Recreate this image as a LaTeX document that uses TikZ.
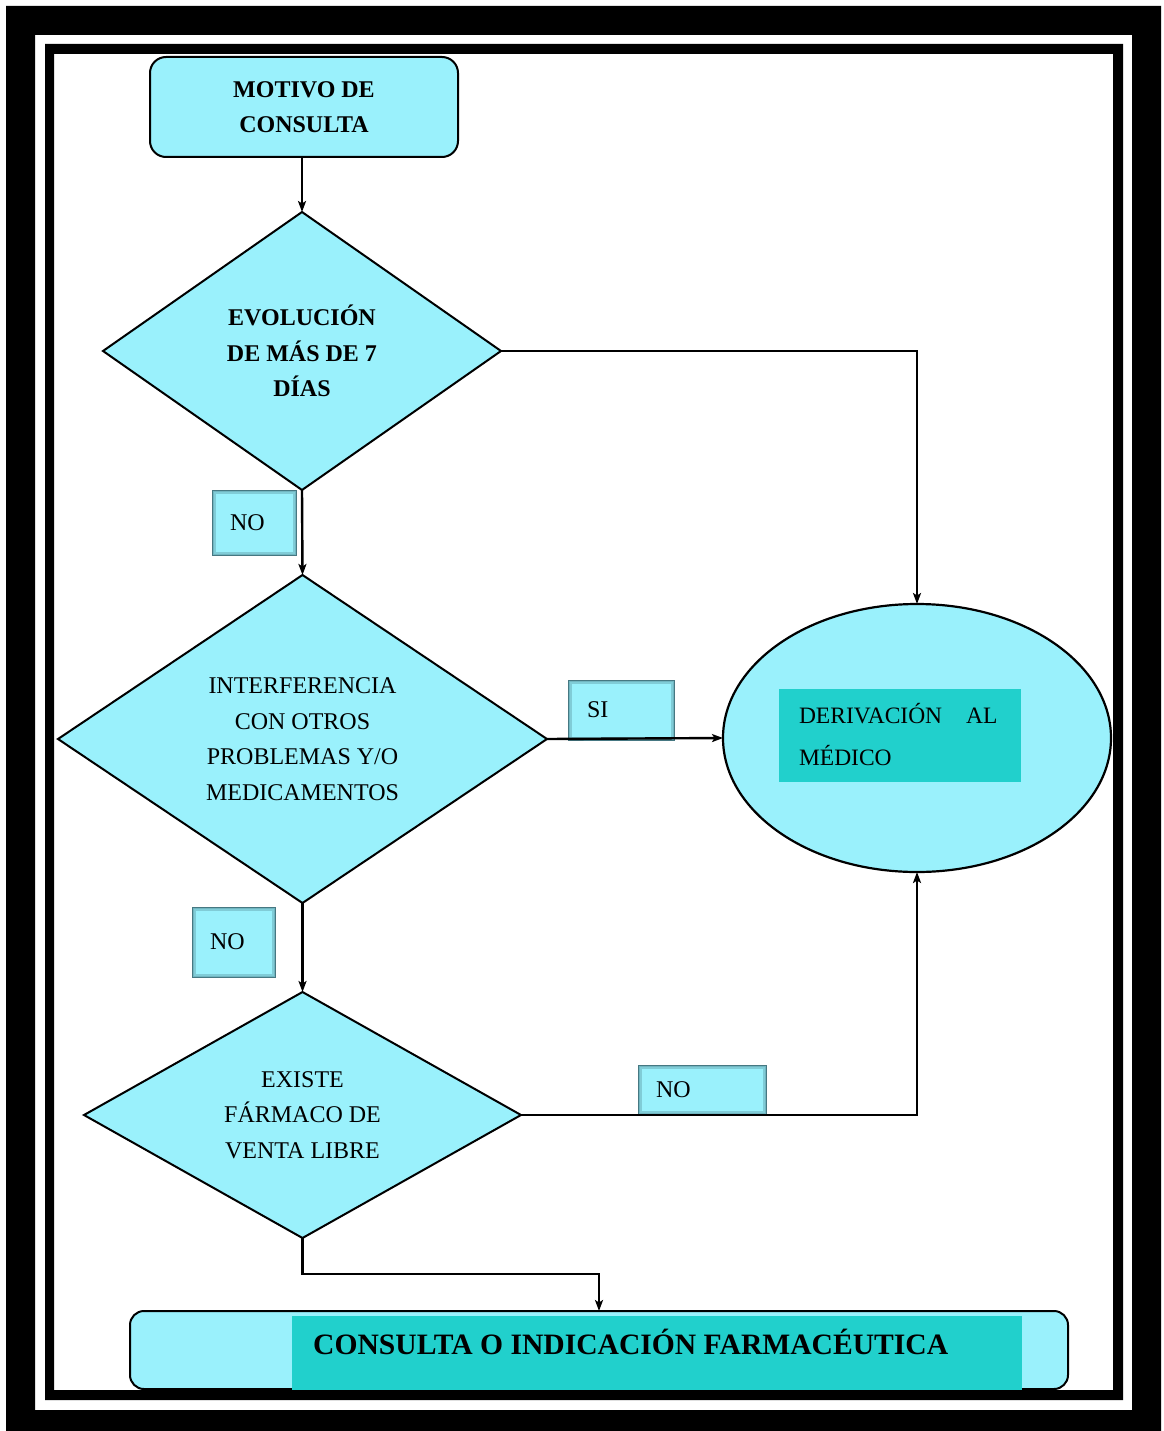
\documentclass[tikz,border=0pt]{standalone}
\usepackage{fontspec}
\setmainfont{Liberation Serif}
\usetikzlibrary{shapes.geometric,arrows.meta}
\definecolor{lightc}{RGB}{154,241,252}
\definecolor{tealc}{RGB}{33,208,204}
\definecolor{edgec}{RGB}{70,120,130}
\begin{document}
\begin{tikzpicture}[x=1pt,y=-1pt,
  conn/.style={line width=2.4pt, draw=black},
  arr/.style={conn,-{Stealth[length=11pt,width=8pt,inset=2.5pt]}},
  shapebase/.style={fill=lightc, draw=black, line width=2pt, outer sep=0pt, inner sep=0pt, align=center},
  decision/.style={shapebase, diamond},
  regtext/.style={font=\fontsize{24}{35.5}\selectfont},
  boldtext/.style={font=\bfseries\fontsize{24}{35.5}\selectfont},
  roundbox/.style={shapebase, rectangle, rounded corners=16pt},
  labelbox/.style={rectangle, fill=lightc, draw=edgec, line width=1pt, outer sep=0pt,
    inner xsep=18pt, inner ysep=0pt, align=left, font=\fontsize{24}{28}\selectfont,
    path picture={\draw[edgec, opacity=0.3, line width=7pt]
      (path picture bounding box.south west) rectangle (path picture bounding box.north east);
      \draw[edgec, opacity=0.25, line width=3pt]
      (path picture bounding box.south west) rectangle (path picture bounding box.north east);}},
  tealbox/.style={rectangle, fill=tealc, draw=none, outer sep=0pt}
]
\useasboundingbox (0,0) rectangle (1163,1431);
% frame
\fill[black,even odd rule] (6,6) rectangle (1161,1431) (35,35) rectangle (1132,1410);
\fill[black,even odd rule] (45,44) rectangle (1123,1400) (54,54) rectangle (1113,1390);

% nodes
\node[roundbox, boldtext, minimum width=308pt, minimum height=100pt] (motivo) at (304,107) {MOTIVO DE\\CONSULTA};

\node[decision, boldtext, aspect=1.43, minimum width=398pt, minimum height=278pt] (d1) at (302,351)
  {EVOLUCIÓN\\DE MÁS DE 7\\DÍAS};

\node[decision, regtext, aspect=1.49, minimum width=489pt, minimum height=328pt] (d2) at (302.5,739)
  {INTERFERENCIA\\CON OTROS\\PROBLEMAS Y/O\\MEDICAMENTOS};

\node[decision, regtext, aspect=1.78, minimum width=437pt, minimum height=246pt] (d3) at (302.5,1115)
  {EXISTE\\FÁRMACO DE\\VENTA LIBRE};

\node[ellipse, fill=lightc, draw=black, line width=2.2pt, outer sep=0pt, minimum width=388pt, minimum height=268pt] (deriv) at (917,738) {};
\node[tealbox, minimum width=242pt, minimum height=93pt, inner xsep=20pt, text width=202pt, align=left,
  font=\fontsize{23.5}{42}\selectfont] (derivbox) at (900,735)
  {DERIVACIÓN\hspace*{24pt}AL\\MÉDICO};

\node[roundbox, rounded corners=14pt, minimum width=938pt, minimum height=78pt] (final) at (599,1350) {};
\node[tealbox, minimum width=730pt, minimum height=74pt] (finalfill) at (657,1353) {};
\node[anchor=base west, inner sep=0pt, font=\bfseries\fontsize{29.6}{34}\selectfont] (finaltext) at (313,1354)
  {CONSULTA O INDICACIÓN FARMACÉUTICA};

% label boxes
\node[labelbox, text width=48pt, minimum height=65pt] (no1) at (254,522.5) {NO};
\node[labelbox, inner xsep=19pt, text width=68pt, minimum height=60pt] (si) at (621,710) {SI};
\node[labelbox, text width=47pt, minimum height=70pt] (no2) at (233.5,942) {NO};
\node[labelbox, text width=92pt, minimum height=49pt] (no3) at (702,1089.5) {NO};

% connectors
\draw[arr] (motivo.south -| d1.north) -- (d1.north);
\draw[arr] (d1.east) -| (deriv.north);
\draw[arr] (d1.south) -- (d2.north);
\draw[arr] (d2.east) -- (deriv.west);
\draw[arr] (d2.south) -- (d3.north);
\draw[arr] (d3.east) -| (deriv.south);
\draw[arr] (d3.south) -- ++(0,36) -| (final.north);
\end{tikzpicture}
\end{document}
